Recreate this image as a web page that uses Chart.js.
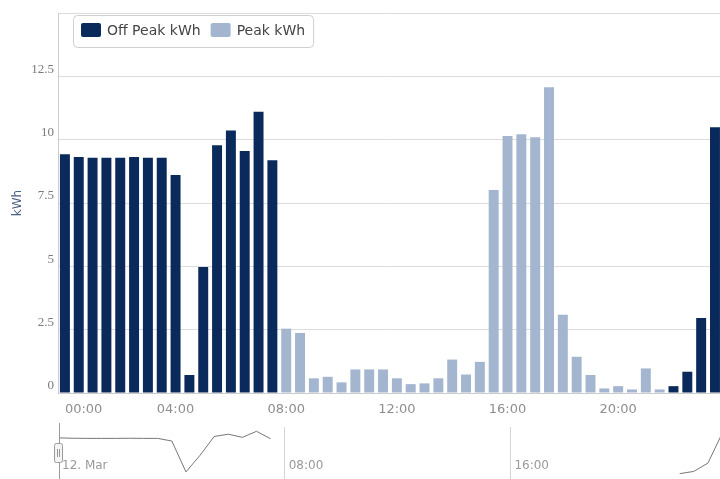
<!DOCTYPE html>
<html>
<head>
<meta charset="utf-8">
<script src="https://cdn.jsdelivr.net/npm/chart.js@4.4.1/dist/chart.umd.min.js"></script>
<style>
  html, body { margin: 0; padding: 0; background: #fff; overflow: hidden; }
  #wrap { position: relative; width: 724px; height: 479px; }
  #main-box { position: absolute; left: 0; top: 0; }
  #nav-box { position: absolute; left: 0; top: 420px; }
</style>
</head>
<body>
<div id="wrap">
  <div id="main-box"><canvas id="mainChart" width="724" height="420"></canvas></div>
  <div id="nav-box"><canvas id="navChart" width="724" height="59"></canvas></div>
</div>
<script>
// half-hourly readings, 12 March
const times = [
  '00:00', '00:30', '01:00', '01:30', '02:00', '02:30', '03:00', '03:30',
  '04:00', '04:30', '05:00', '05:30', '06:00', '06:30', '07:00', '07:30',
  '08:00', '08:30', '09:00', '09:30', '10:00', '10:30', '11:00', '11:30',
  '12:00', '12:30', '13:00', '13:30', '14:00', '14:30', '15:00', '15:30',
  '16:00', '16:30', '17:00', '17:30', '18:00', '18:30', '19:00', '19:30',
  '20:00', '20:30', '21:00', '21:30', '22:00', '22:30', '23:00', '23:30'
];
const offPeak = [
  9.42, 9.32, 9.29, 9.29, 9.29, 9.32, 9.29, 9.29,
  8.61, 0.71, 4.97, 9.78, 10.36, 9.55, 11.10, 9.19,
  null, null, null, null, null, null, null, null,
  null, null, null, null, null, null, null, null,
  null, null, null, null, null, null, null, null,
  null, null, null, null, 0.27, 0.84, 2.96, 10.49
];
const peak = [
  null, null, null, null, null, null, null, null,
  null, null, null, null, null, null, null, null,
  2.54, 2.37, 0.58, 0.64, 0.42, 0.93, 0.93, 0.93,
  0.58, 0.35, 0.38, 0.58, 1.32, 0.73, 1.23, 8.01,
  10.14, 10.21, 10.10, 12.07, 3.09, 1.43, 0.71, 0.18,
  0.27, 0.14, 0.97, 0.14, null, null, null, null
];
const xTickLabels = ['00:00', '04:00', '08:00', '12:00', '16:00', '20:00'];
const yTickLabels = ['0', '2.5', '5', '7.5', '10', '12.5', ''];
const navTickIndex = [0, 16, 32];
const navTickText = ['12. Mar', '08:00', '16:00'];

// legend drawn as a framed box inside the plot, top left
const boxLegend = {
  id: 'boxLegend',
  afterDraw(chart) {
    const ctx = chart.ctx;
    const area = chart.chartArea;
    const x0 = area.left + 15, y0 = area.top + 2;
    ctx.save();
    ctx.font = '14px "DejaVu Sans"';
    const items = chart.data.datasets.map(ds => ({ ds: ds, tw: ctx.measureText(ds.label).width }));
    let w = 16;
    items.forEach((it, i) => { w += 26 + it.tw + (i > 0 ? 10 : 0); });
    ctx.beginPath();
    ctx.roundRect(x0 + 0.5, y0 + 0.5, w, 32, 4);
    ctx.fillStyle = '#fff';
    ctx.fill();
    ctx.strokeStyle = '#cfcfcf';
    ctx.lineWidth = 1;
    ctx.stroke();
    let x = x0 + 8;
    items.forEach(it => {
      ctx.fillStyle = it.ds.backgroundColor;
      ctx.beginPath();
      ctx.roundRect(x, y0 + 8, 20, 14, 2);
      ctx.fill();
      ctx.fillStyle = '#444444';
      ctx.textBaseline = 'middle';
      ctx.fillText(it.ds.label, x + 26, y0 + 16);
      x += 26 + it.tw + 10;
    });
    ctx.restore();
  }
};

new Chart(document.getElementById('mainChart'), {
  type: 'bar',
  data: {
    labels: times,
    datasets: [
      { label: 'Off Peak kWh', data: offPeak, backgroundColor: '#0b2a5c' },
      { label: 'Peak kWh', data: peak, backgroundColor: '#a4b6cf' }
    ]
  },
  options: {
    responsive: false,
    animation: false,
    layout: { padding: { left: 0, right: 2, top: 13, bottom: 0 } },
    datasets: { bar: { grouped: false, barPercentage: 0.72, categoryPercentage: 1 } },
    plugins: { legend: { display: false }, tooltip: { enabled: false } },
    scales: {
      x: {
        grid: { display: false, drawTicks: false },
        border: { display: true, color: '#cccccc' },
        ticks: {
          autoSkip: false,
          maxRotation: 0,
          align: 'inner',
          padding: 9,
          color: '#8e8e8e',
          font: { family: 'DejaVu Sans', size: 13 },
          callback: function (value, index) {
            const t = times[index];
            return xTickLabels.includes(t) ? t : '';
          }
        },
        afterFit: s => { s.height = 27; }
      },
      y: {
        min: 0,
        max: 15,
        grid: { color: '#dcdcdc', drawTicks: false },
        border: { display: true, color: '#cccccc' },
        ticks: {
          stepSize: 2.5,
          padding: 4,
          labelOffset: -7,
          color: '#7a7a7a',
          font: { family: 'Liberation Serif', size: 13 },
          callback: (value, index) => yTickLabels[index]
        },
        title: {
          display: true,
          text: 'kWh',
          color: '#4a5f80',
          padding: { top: 11, bottom: 0 },
          font: { family: 'DejaVu Sans', size: 12 }
        },
        afterFit: s => { s.width = 58; }
      }
    }
  },
  plugins: [boxLegend]
});

// navigator strip with handle and time labels
const navExtras = {
  id: 'navExtras',
  afterDraw(chart) {
    const ctx = chart.ctx;
    const xs = chart.scales.x;
    ctx.save();
    ctx.font = '12px "DejaVu Sans"';
    ctx.fillStyle = '#9a9a9a';
    ctx.textBaseline = 'middle';
    navTickIndex.forEach((idx, i) => {
      const px = xs.getPixelForValue(idx);
      ctx.fillText(navTickText[i], px + (i === 0 ? 3 : 4), 46);
    });
    const hx = Math.round(xs.getPixelForValue(0)) + 0.5;
    ctx.strokeStyle = '#9a9a9a';
    ctx.lineWidth = 1;
    ctx.beginPath();
    ctx.moveTo(hx, 3);
    ctx.lineTo(hx, 59);
    ctx.stroke();
    ctx.beginPath();
    ctx.roundRect(hx - 5, 23.5, 8, 19, 2);
    ctx.fillStyle = '#f4f4f4';
    ctx.fill();
    ctx.stroke();
    ctx.beginPath();
    ctx.moveTo(hx - 2, 29);
    ctx.lineTo(hx - 2, 37);
    ctx.moveTo(hx, 29);
    ctx.lineTo(hx, 37);
    ctx.stroke();
    ctx.restore();
  }
};

new Chart(document.getElementById('navChart'), {
  type: 'line',
  data: {
    labels: times,
    datasets: [{
      data: offPeak,
      borderColor: '#777777',
      borderWidth: 1,
      pointRadius: 0,
      spanGaps: false,
      fill: false,
      tension: 0
    }]
  },
  options: {
    responsive: false,
    animation: false,
    layout: { padding: { left: 59, right: 2, top: 7, bottom: 0 } },
    plugins: { legend: { display: false }, tooltip: { enabled: false } },
    scales: {
      x: {
        offset: false,
        ticks: { display: false, autoSkip: false },
        border: { display: false },
        grid: {
          drawTicks: false,
          color: c => (navTickIndex.includes(c.index) && c.index > 0 ? '#d4d4d4' : 'rgba(0,0,0,0)')
        },
        afterFit: s => { s.height = 0; }
      },
      y: { display: false, min: -1.1, max: 12.2 }
    }
  },
  plugins: [navExtras]
});
</script>
</body>
</html>
